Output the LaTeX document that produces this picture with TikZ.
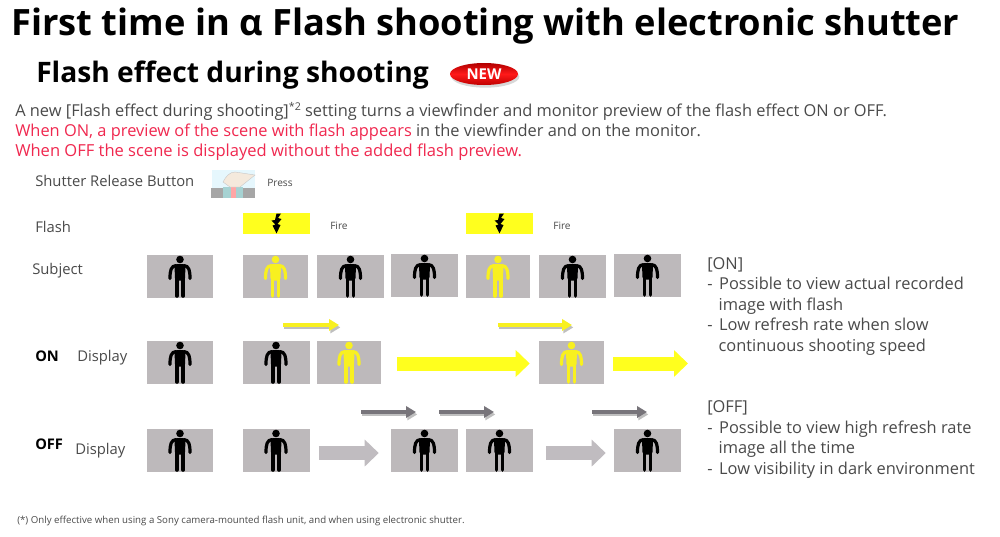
\documentclass[tikz,border=0pt]{standalone}
\usepackage{fontspec}
\setmainfont{Open Sans}
\usetikzlibrary{arrows.meta}
\usetikzlibrary{positioning}
\usetikzlibrary{shapes.geometric}
\usetikzlibrary{shadows}
\definecolor{txt_gray}{HTML}{4A4A4A}
\definecolor{txt_red}{HTML}{F0284F}
\definecolor{frame_gray}{HTML}{BDB9BB}
\definecolor{flash_yellow}{HTML}{FFFF1E}
\definecolor{person_yellow}{HTML}{F8F020}
\definecolor{arrow_gray}{HTML}{C0BCC0}
\definecolor{thin_gray}{HTML}{77747A}
\definecolor{finger_skin}{HTML}{F4E9DC}

\begin{document}
\begin{tikzpicture}[x=0.75pt,y=-0.75pt]
        \tikzset{lbl/.style = {anchor=base west,inner sep=0,text=txt_gray,font=\fontsize{11.1}{13}\selectfont}}
        \tikzset{small_lbl/.style = {lbl,font=\fontsize{7.6}{9}\selectfont}}
        \tikzset{body_lbl/.style = {lbl,font=\fontsize{12.3}{15}\selectfont}}
        \tikzset{red_lbl/.style = {lbl,text=txt_red,font=\fontsize{12.4}{15}\selectfont}}
        \tikzset{side_lbl/.style = {anchor=north west,inner sep=0,align=left,text=txt_gray,font=\fontsize{12.3}{15.4}\selectfont}}
        \tikzset{frame_box/.style = {fill=frame_gray,inner sep=0,minimum height=32.25pt,minimum width=#1*0.75pt}}
        \tikzset{flash_box/.style = {fill=flash_yellow,inner sep=0,minimum height=15.75pt,minimum width=50.25pt}}
        \tikzset{on_edge/.style = {-{Triangle[length=10.5pt,width=19.5pt]},line width=10.5pt,color=flash_yellow,transform canvas={yshift=-0.75pt}}}
        \tikzset{off_edge/.style = {-{Triangle[length=10.5pt,width=19.5pt]},line width=10.5pt,color=arrow_gray,transform canvas={yshift=-1.9pt}}}
        \tikzset{shade_edge/.style = {-{Triangle[length=7.5pt,width=8.5pt]},line width=2.6pt,color=black!25,transform canvas={xshift=1pt,yshift=-1.8pt}}}
        \tikzset{yellow_edge/.style = {-{Triangle[length=7.5pt,width=8.5pt]},line width=2.6pt,color=person_yellow}}
        \tikzset{gray_edge/.style = {-{Triangle[length=7.5pt,width=8.5pt]},line width=2.6pt,color=thin_gray}}
        \tikzset{pics/person/.style = {code = {
            \fill[#1] (0,-17) circle (3.8);
            \fill[#1,rounded corners=2pt] (-5.5,-12.5) -- (5.5,-12.5) -- (5,4) -- (-5,4) -- cycle;
            \draw[#1,line width=2.4pt,line cap=round] (-4,-11) .. controls (-9,-10.5) and (-10,-6) .. (-10,2);
            \draw[#1,line width=2.4pt,line cap=round] (4,-11) .. controls (9,-10.5) and (10,-6) .. (10,2);
            \draw[#1,line width=2.7pt,line cap=round] (-3.1,2) -- (-3.1,19.5);
            \draw[#1,line width=2.7pt,line cap=round] (3.1,2) -- (3.1,19.5);
        }}}
        \tikzset{pics/bolt/.style = {code = {
            \fill[black] (0,-10) -- (4.5,-10) -- (1.5,-5.5) -- (5,-4.5) -- (1,0.5) -- (4,1.5) -- (0,10) -- (-4,2) -- (-1,1) -- (-5,-3) -- (-1.5,-3.5) -- cycle;
        }}}

        \useasboundingbox (0,0) rectangle (1000,536);
        \fill[white] (0,0) rectangle (1000,536);

        % headings
        \node[anchor=base west,inner sep=0,font=\fontsize{27.2}{30}\bfseries\selectfont] (title) at (11,35) {First time in α Flash shooting with electronic shutter};
        \node[anchor=base west,inner sep=0,font=\fontsize{21.15}{24}\bfseries\selectfont] (subtitle) at (36,82) {Flash effect during shooting};
        \node[ellipse,inner sep=0,minimum width=51pt,minimum height=16.5pt,top color=red!70!black,bottom color=red!75!black,middle color=red!90!white,drop shadow={shadow xshift=1pt,shadow yshift=-2pt,opacity=0.3},text=white,font=\fontsize{11.2}{13}\bfseries\selectfont] (new) at (484,74) {NEW};

        % intro text
        \node[body_lbl] (line_a) at (15,116) {A new [Flash effect during shooting]\raisebox{4.5pt}{\fontsize{8}{9}\selectfont *2} setting turns a viewfinder and monitor preview of the flash effect ON or OFF.};
        \node[body_lbl,text=txt_red] (line_b) at (15,136) {When ON, a preview of the scene with flash appears \textcolor{txt_gray}{in the viewfinder and on the monitor.}};
        \node[red_lbl] (line_c) at (15,156) {When OFF the scene is displayed without the added flash preview.};

        % row labels
        \node[lbl] (shutter) at (35,186) {Shutter Release Button};
        \node[lbl] (flash) at (35,232) {Flash};
        \node[lbl] (subject) at (32,274) {Subject};
        \node[lbl,text=black,font=\fontsize{11}{13}\bfseries\selectfont] (on) at (35,361) {ON};
        \node[lbl] (on_disp) at (77,361) {Display};
        \node[lbl,text=black,font=\fontsize{11}{13}\bfseries\selectfont] (off) at (35,449) {OFF};
        \node[lbl] (off_disp) at (75,454) {Display};

        % shutter button
        \fill[cyan!10] (212,170) rectangle (255,189);
        \fill[gray!70] (211,188) rectangle (255,198);
        \fill[teal!35] (223,187) rectangle (243,198);
        \fill[red!35] (231,186) rectangle (236,198);
        \filldraw[fill=finger_skin,draw=gray!45,line width=0.3pt] (223,182) .. controls (226,176) and (230,172) .. (235,172) -- (255,175) -- (240,187) -- (230,187) -- cycle;
        \node[small_lbl] (press) at (267,186) {Press};

        % flash
        \node[flash_box] (fl1) at (276.5,223.5) {}; \pic at (fl1) {bolt};
        \node[flash_box] (fl2) at (499.5,223.5) {}; \pic at (fl2) {bolt};
        \node[small_lbl] (fire1) at (330,229) {Fire};
        \node[small_lbl] (fire2) at (553,229) {Fire};

        % subject row
        \node[frame_box=66] (su1) at (180,276.5) {}; \pic at (su1) {person=black};
        \node[frame_box=65] (su2) at (275.5,276.5) {}; \pic at (su2) {person=person_yellow};
        \node[frame_box=67] (su3) at (350.5,276.5) {}; \pic at (su3) {person=black};
        \node[frame_box=67] (su4) at (424.5,275.5) {}; \pic at (su4) {person=black};
        \node[frame_box=64] (su5) at (498,276.5) {}; \pic at (su5) {person=person_yellow};
        \node[frame_box=67] (su6) at (572.5,276.5) {}; \pic at (su6) {person=black};
        \node[frame_box=67] (su7) at (647.5,275.5) {}; \pic at (su7) {person=black};

        % on row
        \node[frame_box=66] (on1) at (180,362.5) {}; \pic at (on1) {person=black};
        \node[frame_box=67] (on2) at (276,362.5) {}; \pic at (on2) {person=black};
        \node[frame_box=64] (on3) at (349,362.5) {}; \pic at (on3) {person=person_yellow};
        \node[frame_box=65] (on4) at (571.5,362.5) {}; \pic at (on4) {person=person_yellow};
        \coordinate (on_end) at (688,362.5);
        \draw[on_edge,shorten <=12pt,shorten >=6.75pt] (on3.east) -- (on4.west);
        \draw[on_edge,shorten <=6.75pt] (on4.east) -- (on_end);

        % off row
        \node[frame_box=66] (off1) at (180,450.5) {}; \pic at (off1) {person=black};
        \node[frame_box=67] (off2) at (276,450.5) {}; \pic at (off2) {person=black};
        \node[frame_box=67] (off3) at (424.5,450.5) {}; \pic at (off3) {person=black};
        \node[frame_box=67] (off4) at (499.5,450.5) {}; \pic at (off4) {person=black};
        \node[frame_box=67] (off5) at (647.5,450.5) {}; \pic at (off5) {person=black};
        \draw[off_edge,shorten <=6.75pt,shorten >=9pt] (off2.east) -- (off3.west);
        \draw[off_edge,shorten <=9.75pt,shorten >=6pt] (off4.east) -- (off5.west);

        % small arrows
        \coordinate (ya1) at (283,325); \coordinate (yb1) at (339,325);
        \coordinate (ya2) at (498,325); \coordinate (yb2) at (572,325);
        \coordinate (ga1) at (361,412); \coordinate (gb1) at (416,412);
        \coordinate (ga2) at (439,412); \coordinate (gb2) at (494,412);
        \coordinate (ga3) at (592,412); \coordinate (gb3) at (647,412);
        \draw[shade_edge] (ya1) -- (yb1);
        \draw[shade_edge] (ya2) -- (yb2);
        \draw[shade_edge] (ga1) -- (gb1);
        \draw[shade_edge] (ga2) -- (gb2);
        \draw[shade_edge] (ga3) -- (gb3);
        \draw[yellow_edge] (ya1) -- (yb1);
        \draw[yellow_edge] (ya2) -- (yb2);
        \draw[gray_edge] (ga1) -- (gb1);
        \draw[gray_edge] (ga2) -- (gb2);
        \draw[gray_edge] (ga3) -- (gb3);

        % notes on the right
        \node[side_lbl] (note_on) at (707,257) {[ON]\\-\hspace*{5pt}Possible to view actual recorded\\\hspace*{8.5pt}image with flash\\-\hspace*{5pt}Low refresh rate when slow\\\hspace*{8.5pt}continuous shooting speed};
        \node[side_lbl] (note_off) at (707,400.5) {[OFF]\\-\hspace*{5pt}Possible to view high refresh rate\\\hspace*{8.5pt}image all the time\\-\hspace*{5pt}Low visibility in dark environment};

        % footnote
        \node[lbl,font=\fontsize{7.26}{9}\selectfont] (foot) at (17,523) {(*) Only effective when using a Sony camera-mounted flash unit, and when using electronic shutter.};
    \end{tikzpicture}
\end{document}
